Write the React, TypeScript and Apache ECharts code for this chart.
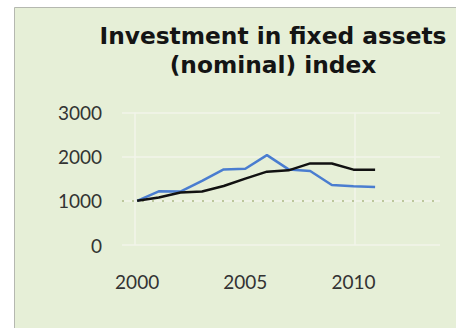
import React, { useEffect, useRef } from "react";
import * as echarts from "echarts";

const years = [2000, 2001, 2002, 2003, 2004, 2005, 2006, 2007, 2008, 2009, 2010, 2011];
const blueValues = [1000, 1215, 1210, 1450, 1712, 1727, 2034, 1712, 1674, 1360, 1330, 1315];
const blackValues = [1000, 1076, 1189, 1211, 1337, 1503, 1660, 1690, 1847, 1847, 1706, 1706];
const yTicks = [0, 1000, 2000, 3000];
const xTickLabels = [2000, 2005, 2010];
const baseline = 1000;
const titleText = "Investment in fixed assets\n(nominal) index";

export default function App() {
  const ref = useRef<HTMLDivElement>(null);
  useEffect(() => {
    if (!ref.current) return;
    const chart = echarts.init(ref.current, null, { renderer: "svg" });
    const font = "Lato, 'Open Sans', sans-serif";
    chart.setOption({
      animation: false,
      backgroundColor: "#ffffff",
      graphic: [
        {
          type: "rect",
          z: -10,
          silent: true,
          shape: { x: 14.5, y: 7.5, width: 460, height: 340 },
          style: { fill: "#e6efd7", stroke: "#b5b8b0", lineWidth: 1 },
        },
      ],
      title: {
        text: titleText,
        left: 268,
        top: 16,
        textAlign: "center",
        textStyle: {
          fontFamily: "'DejaVu Sans', sans-serif",
          fontWeight: "bold",
          fontSize: 23.3,
          lineHeight: 29,
          color: "#141414",
        },
      },
      grid: { left: 122, right: 16, top: 112.5, bottom: 83 },
      xAxis: {
        type: "value",
        min: 1999.3,
        max: 2014,
        axisLine: { show: false },
        axisTick: { show: false },
        splitLine: { show: false },
        axisLabel: {
          customValues: xTickLabels,
          margin: 27,
          fontFamily: font,
          fontSize: 19,
          color: "#333333",
          formatter: (v: number) => String(v),
        },
      },
      yAxis: {
        type: "value",
        min: yTicks[0],
        max: yTicks[yTicks.length - 1],
        interval: 1000,
        axisLine: { show: false },
        axisTick: { show: false },
        axisLabel: {
          margin: 20,
          fontFamily: font,
          fontSize: 19,
          color: "#333333",
          formatter: (v: number) => String(v),
        },
        splitLine: { show: true, lineStyle: { color: "#f2f5ea", width: 1.5 } },
      },
      series: [
        {
          type: "line",
          data: years.map((y, i) => [y, blueValues[i]]),
          symbol: "none",
          lineStyle: { color: "#4a7dd0", width: 2.5 },
          z: 3,
          markLine: {
            silent: true,
            symbol: "none",
            z: 1,
            label: { show: false },
            lineStyle: { color: "#f2f5ea", width: 1.5, type: "solid" },
            data: [{ xAxis: 1999.9 }, { xAxis: 2010.05 }],
          },
        },
        {
          type: "line",
          data: years.map((y, i) => [y, blackValues[i]]),
          symbol: "none",
          lineStyle: { color: "#111111", width: 2.5 },
          z: 4,
          markLine: {
            silent: true,
            symbol: "none",
            z: 2,
            label: { show: false },
            lineStyle: { color: "#bcc79c", width: 2, type: [2, 8] },
            data: [{ yAxis: baseline }],
          },
        },
      ],
    });
    return () => chart.dispose();
  }, []);
  return (
    <div
      ref={ref}
      style={{ position: "fixed", left: 0, top: 0, width: 456, height: 328 }}
    />
  );
}
